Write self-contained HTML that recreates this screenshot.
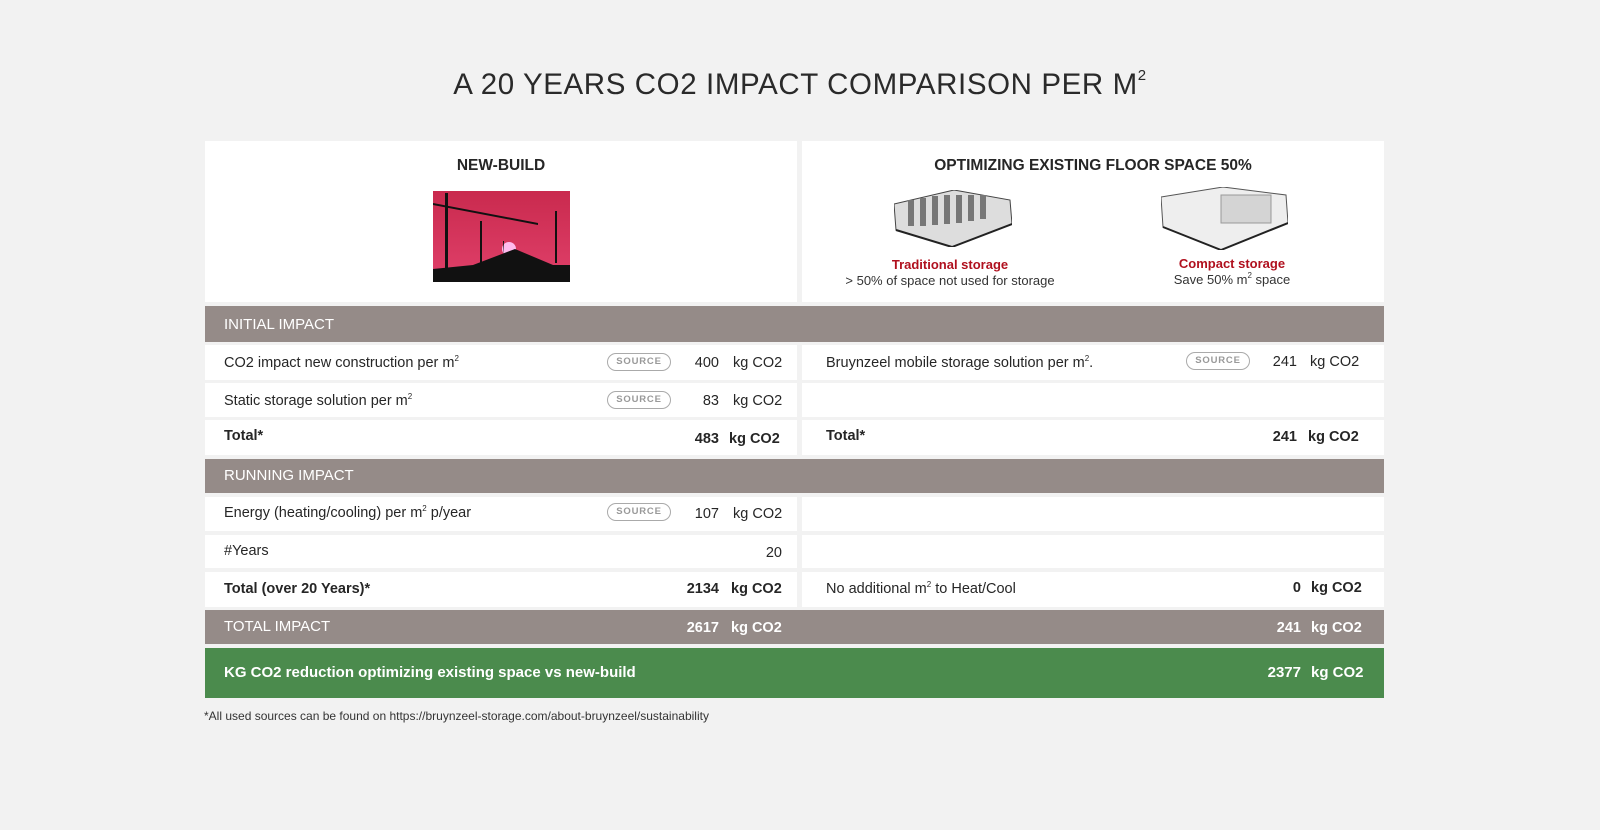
<!DOCTYPE html>
<html><head><meta charset="utf-8"><style>
*{margin:0;padding:0;box-sizing:border-box}
body{width:1600px;height:830px;background:#f2f2f2;font-family:"Liberation Sans",sans-serif;color:#262626;position:relative;overflow:hidden}
.a{position:absolute}
.w{position:absolute;background:#fff}
.g{position:absolute;background:#958b88;color:#fff}
.t{position:absolute;font-size:14.5px;line-height:18px;white-space:nowrap}
.b{font-weight:bold}
.src{position:absolute;width:64px;height:18px;border:1.5px solid #aaa;border-radius:9px;font-size:9.5px;color:#999;text-align:center;line-height:15px;letter-spacing:.8px;font-weight:bold}
sup{font-size:8px;vertical-align:6px;line-height:0}
</style></head><body>
<div class="a" style="left:0;width:1600px;top:68px;text-align:center;font-size:29.5px;color:#2a2a2a;letter-spacing:.6px">A 20 YEARS CO2 IMPACT COMPARISON PER M<sup style="font-size:15px;vertical-align:14px">2</sup></div>

<div class="w" style="left:205px;top:141px;width:592px;height:161px"></div>
<div class="w" style="left:802px;top:141px;width:582px;height:161px"></div>
<div class="t b" style="left:205px;width:592px;text-align:center;top:157px;font-size:15.5px">NEW-BUILD</div>
<div class="t b" style="left:802px;width:582px;text-align:center;top:157px;font-size:15.5px">OPTIMIZING EXISTING FLOOR SPACE 50%</div>
<svg class="a" style="left:433px;top:191px" width="137" height="91" viewBox="0 0 137 91">
<defs><linearGradient id="sk" x1="0" y1="0" x2="0" y2="1"><stop offset="0" stop-color="#c92a4e"/><stop offset="1" stop-color="#e0406a"/></linearGradient></defs>
<rect width="137" height="91" fill="url(#sk)"/>
<circle cx="76" cy="58" r="7" fill="#fbe"/>
<path d="M0 78 L40 74 L82 58 L120 74 L137 74 L137 91 L0 91Z" fill="#111"/>
<path d="M12 2 L15 2 L15 80 L12 80Z M0 12 L105 32 L105 34 L0 14Z" fill="#111"/>
<path d="M47 30 L49 30 L49 78 L47 78Z M122 20 L124 20 L124 72 L122 72Z M70 50 L71 50 L71 65Z" fill="#111"/>
</svg>
<svg class="a" style="left:894px;top:190px" width="118" height="57" viewBox="0 0 118 57">
<path d="M0 14 L2 40 L58 57 L118 34 L116 10 L60 0Z" fill="#ddd" stroke="#444" stroke-width="1"/>
<path d="M2 40 L58 57 L118 34" fill="none" stroke="#222" stroke-width="2"/>
<g fill="#777"><rect x="14" y="10" width="6" height="26"/><rect x="26" y="8" width="6" height="28"/><rect x="38" y="6" width="6" height="29"/><rect x="50" y="5" width="6" height="29"/><rect x="62" y="5" width="6" height="28"/><rect x="74" y="5" width="6" height="26"/><rect x="86" y="5" width="6" height="24"/></g>
</svg>
<svg class="a" style="left:1161px;top:187px" width="127" height="63" viewBox="0 0 127 63">
<path d="M0 10 L2 40 L60 63 L127 36 L125 8 L62 0Z" fill="#eee" stroke="#555" stroke-width="1"/>
<path d="M2 40 L60 63 L127 36" fill="none" stroke="#222" stroke-width="2"/>
<rect x="60" y="8" width="50" height="28" fill="#d4d4d4" stroke="#999"/>
</svg>
<div class="t b" style="left:850px;width:200px;text-align:center;top:256px;color:#b0101e;font-size:13px">Traditional storage</div>
<div class="t" style="left:830px;width:240px;text-align:center;top:272px;font-size:13px;color:#333">&gt; 50% of space not used for storage</div>
<div class="t b" style="left:1132px;width:200px;text-align:center;top:255px;color:#b0101e;font-size:13px">Compact storage</div>
<div class="t" style="left:1132px;width:200px;text-align:center;top:271px;font-size:13px;color:#333">Save 50% m<sup>2</sup> space</div>

<div class="g" style="left:205px;top:306px;width:1179px;height:36px"></div>
<div class="t" style="left:224px;top:316px;color:#fff;font-size:15px">INITIAL IMPACT</div>

<div class="w" style="left:205px;top:345px;width:592px;height:35px"></div>
<div class="w" style="left:802px;top:345px;width:582px;height:35px"></div>
<div class="w" style="left:205px;top:383px;width:592px;height:34px"></div>
<div class="w" style="left:802px;top:383px;width:582px;height:34px"></div>
<div class="w" style="left:205px;top:420px;width:592px;height:35px"></div>
<div class="w" style="left:802px;top:420px;width:582px;height:35px"></div>

<div class="t" style="left:224px;top:354px">CO2 impact new construction per m<sup>2</sup></div>
<div class="src" style="left:607px;top:353px">SOURCE</div>
<div class="t" style="left:660px;width:59px;text-align:right;top:354px">400</div>
<div class="t" style="left:733px;top:354px">kg CO2</div>
<div class="t" style="left:224px;top:392px">Static storage solution per m<sup>2</sup></div>
<div class="src" style="left:607px;top:391px">SOURCE</div>
<div class="t" style="left:660px;width:59px;text-align:right;top:392px">83</div>
<div class="t" style="left:733px;top:392px">kg CO2</div>
<div class="t b" style="left:224px;top:427px">Total*</div>
<div class="t b" style="left:660px;width:59px;text-align:right;top:430px">483</div>
<div class="t b" style="left:729px;top:430px">kg CO2</div>

<div class="t" style="left:826px;top:354px">Bruynzeel mobile storage solution per m<sup>2</sup>.</div>
<div class="src" style="left:1186px;top:352px">SOURCE</div>
<div class="t" style="left:1240px;width:57px;text-align:right;top:353px">241</div>
<div class="t" style="left:1310px;top:353px">kg CO2</div>
<div class="t b" style="left:826px;top:427px">Total*</div>
<div class="t b" style="left:1240px;width:57px;text-align:right;top:428px">241</div>
<div class="t b" style="left:1308px;top:428px">kg CO2</div>

<div class="g" style="left:205px;top:459px;width:1179px;height:34px"></div>
<div class="t" style="left:224px;top:467px;color:#fff;font-size:15px">RUNNING IMPACT</div>

<div class="w" style="left:205px;top:497px;width:592px;height:34px"></div>
<div class="w" style="left:802px;top:497px;width:582px;height:34px"></div>
<div class="w" style="left:205px;top:535px;width:592px;height:33px"></div>
<div class="w" style="left:802px;top:535px;width:582px;height:33px"></div>
<div class="w" style="left:205px;top:572px;width:592px;height:35px"></div>
<div class="w" style="left:802px;top:572px;width:582px;height:35px"></div>

<div class="t" style="left:224px;top:504px">Energy (heating/cooling) per m<sup>2</sup> p/year</div>
<div class="src" style="left:607px;top:503px">SOURCE</div>
<div class="t" style="left:660px;width:59px;text-align:right;top:505px">107</div>
<div class="t" style="left:733px;top:505px">kg CO2</div>
<div class="t" style="left:224px;top:542px">#Years</div>
<div class="t" style="left:700px;width:82px;text-align:right;top:544px">20</div>
<div class="t b" style="left:224px;top:580px">Total (over 20 Years)*</div>
<div class="t b" style="left:660px;width:59px;text-align:right;top:580px">2134</div>
<div class="t b" style="left:731px;top:580px">kg CO2</div>
<div class="t" style="left:826px;top:580px">No additional m<sup>2</sup> to Heat/Cool</div>
<div class="t b" style="left:1240px;width:61px;text-align:right;top:579px">0</div>
<div class="t b" style="left:1311px;top:579px">kg CO2</div>

<div class="g" style="left:205px;top:610px;width:1179px;height:34px"></div>
<div class="t" style="left:224px;top:618px;color:#fff;font-size:15px">TOTAL IMPACT</div>
<div class="t b" style="left:660px;width:59px;text-align:right;top:619px;color:#fff">2617</div>
<div class="t b" style="left:731px;top:619px;color:#fff">kg CO2</div>
<div class="t b" style="left:1240px;width:61px;text-align:right;top:619px;color:#fff">241</div>
<div class="t b" style="left:1311px;top:619px;color:#fff">kg CO2</div>

<div class="a" style="left:205px;top:648px;width:1179px;height:50px;background:#4b8b4d"></div>
<div class="t b" style="left:224px;top:664px;color:#fff;font-size:15px">KG CO2 reduction optimizing existing space vs new-build</div>
<div class="t b" style="left:1230px;width:71px;text-align:right;top:664px;color:#fff;font-size:15px">2377</div>
<div class="t b" style="left:1311px;top:664px;color:#fff;font-size:15px">kg CO2</div>

<div class="t" style="left:204px;top:707px;font-size:12px;color:#333">*All used sources can be found on https://bruynzeel-storage.com/about-bruynzeel/sustainability</div>
</body></html>
